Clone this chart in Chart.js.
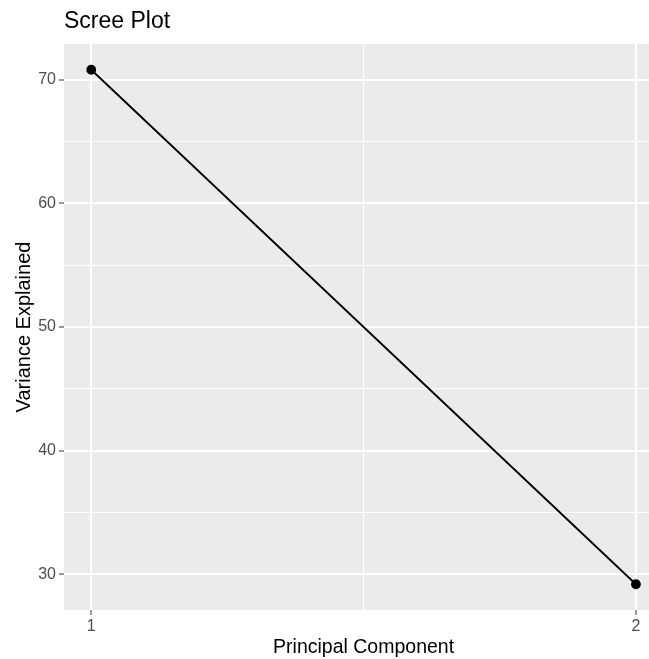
<!DOCTYPE html>
<html>
<head>
<meta charset="utf-8">
<script src="https://cdn.jsdelivr.net/npm/chart.js@4.4.0/dist/chart.umd.min.js"></script>
<style>
  html, body { margin: 0; padding: 0; background: #fff; overflow: hidden; }
  #wrap { width: 649px; height: 659px; }
</style>
</head>
<body>
<div id="wrap"><canvas id="scree" width="649" height="659"></canvas></div>
<script>
// ===== dados =====
const componentes = [1, 2];
const variancia = [70.8, 29.2];
const ticksX = [1, 1.5, 2];
const ticksY = [30, 35, 40, 45, 50, 55, 60, 65, 70];

const fonte = '"Liberation Sans", Arial, Helvetica, sans-serif';

// fundo cinza do painel, título e rótulo do eixo x
const painelGG = {
    id: 'painelGG',
    beforeDraw(chart) {
        const { ctx, chartArea: a } = chart;
        ctx.save();
        ctx.fillStyle = '#EBEBEB';
        ctx.fillRect(a.left, a.top, a.right - a.left, a.bottom - a.top);
        ctx.restore();
    },
    afterDraw(chart) {
        const ctx = chart.ctx;
        const x = chart.scales.x;
        // centro do painel completo (0.95 a 2.05)
        const centro = (x.getPixelForValue(0.95) + x.getPixelForValue(2.05)) / 2;
        ctx.save();
        ctx.fillStyle = '#000';
        ctx.textBaseline = 'alphabetic';
        ctx.textAlign = 'left';
        ctx.font = '23px ' + fonte;
        ctx.fillText('Scree Plot', 64, 28);
        ctx.textAlign = 'center';
        ctx.font = '19.5px ' + fonte;
        ctx.fillText('Principal Component', centro, 653);
        ctx.restore();
    }
};

function eixoX(scale) {
    scale.ticks = ticksX.map(v => ({ value: v }));
}
function eixoY(scale) {
    scale.ticks = ticksY.map(v => ({ value: v }));
}

new Chart(document.getElementById('scree').getContext('2d'), {
    type: 'line',
    data: {
        datasets: [{
            data: componentes.map((c, i) => ({ x: c, y: variancia[i] })),
            borderColor: '#000',
            backgroundColor: '#000',
            borderWidth: 1.8,
            pointRadius: 4,
            pointHoverRadius: 4,
            tension: 0,
            clip: false
        }]
    },
    options: {
        responsive: false,
        animation: false,
        events: [],
        layout: {
            autoPadding: false,
            padding: { top: 44, left: 0, right: 0, bottom: 0 }
        },
        plugins: {
            legend: { display: false },
            tooltip: { enabled: false }
        },
        scales: {
            x: {
                type: 'linear',
                min: 0.95,
                max: 2.024,
                afterBuildTicks: eixoX,
                afterFit(scale) {
                    scale.height = 49;
                    scale.paddingLeft = 0;
                    scale.paddingRight = 0;
                },
                border: { display: false },
                grid: {
                    color: '#FFFFFF',
                    lineWidth: c => (c.tick && c.tick.value % 1 === 0 ? 2 : 1),
                    tickColor: c => (c.tick && c.tick.value % 1 === 0 ? '#333333' : 'rgba(0,0,0,0)'),
                    tickLength: 5,
                    tickWidth: 1
                },
                ticks: {
                    color: '#4D4D4D',
                    font: { family: fonte, size: 16 },
                    padding: 2,
                    maxRotation: 0,
                    callback: v => (v % 1 === 0 ? String(v) : '')
                },
                title: { display: false }
            },
            y: {
                type: 'linear',
                min: 27.12,
                max: 72.88,
                afterBuildTicks: eixoY,
                afterFit(scale) {
                    scale.width = 64;
                    scale.paddingTop = 0;
                    scale.paddingBottom = 0;
                },
                border: { display: false },
                grid: {
                    color: '#FFFFFF',
                    lineWidth: c => (c.tick && c.tick.value % 10 === 0 ? 2 : 1),
                    tickColor: c => (c.tick && c.tick.value % 10 === 0 ? '#333333' : 'rgba(0,0,0,0)'),
                    tickLength: 5,
                    tickWidth: 1
                },
                ticks: {
                    color: '#4D4D4D',
                    font: { family: fonte, size: 16 },
                    padding: 3,
                    callback: v => (v % 10 === 0 ? String(v) : '')
                },
                title: {
                    display: true,
                    text: 'Variance Explained',
                    color: '#000',
                    font: { family: fonte, size: 20 },
                    padding: { top: 12, bottom: 0 }
                }
            }
        }
    },
    plugins: [painelGG]
});
</script>
</body>
</html>
